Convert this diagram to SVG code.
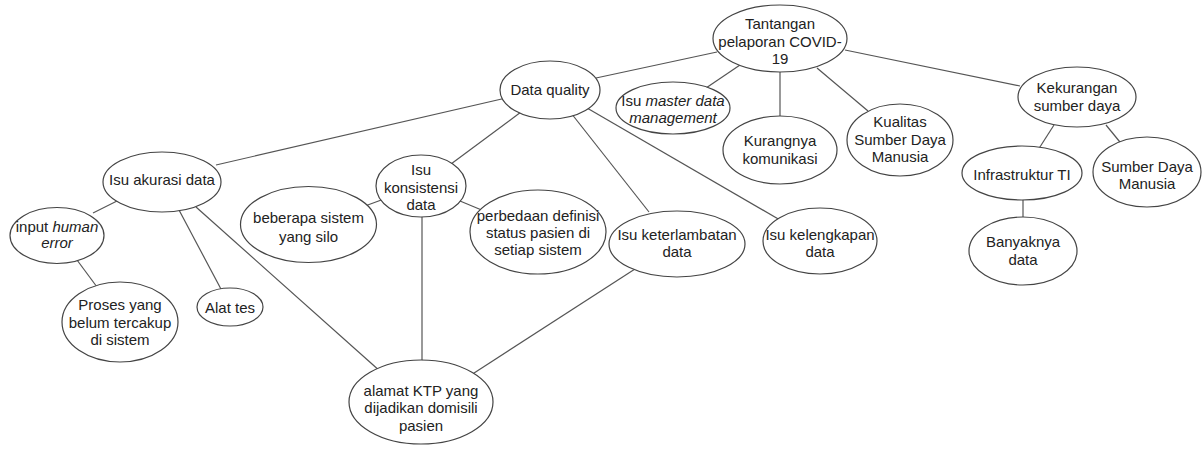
<svg xmlns="http://www.w3.org/2000/svg" width="1202" height="452" viewBox="0 0 1202 452">
<style>
  .n ellipse { fill: #ffffff; stroke: #444444; stroke-width: 1.2; }
  .n text { font-family: "Liberation Sans", Arial, sans-serif; font-size: 15px; fill: #222222; text-anchor: middle; }
  .i { font-style: italic; }
  #edges line { stroke: #555555; stroke-width: 1.2; }
</style>
<rect width="1202" height="452" fill="#ffffff"/>
<g id="edges">
  <line x1="717" y1="52" x2="596" y2="78"/>
  <line x1="740" y1="65" x2="706" y2="88"/>
  <line x1="780" y1="70" x2="780" y2="118"/>
  <line x1="817" y1="68" x2="868" y2="111"/>
  <line x1="845" y1="50" x2="1020" y2="86"/>
  <line x1="1054" y1="125" x2="1038" y2="150"/>
  <line x1="1106" y1="125" x2="1124" y2="147"/>
  <line x1="1023" y1="198" x2="1023" y2="219"/>
  <line x1="506" y1="98" x2="216" y2="165"/>
  <line x1="521" y1="112" x2="451" y2="164"/>
  <line x1="571" y1="113" x2="649" y2="212"/>
  <line x1="587" y1="108" x2="780" y2="220"/>
  <line x1="117" y1="201" x2="93" y2="213"/>
  <line x1="179" y1="210" x2="222" y2="291"/>
  <line x1="196" y1="207" x2="381" y2="372"/>
  <line x1="77" y1="260" x2="97" y2="287"/>
  <line x1="384" y1="199" x2="365" y2="206"/>
  <line x1="460" y1="201" x2="484" y2="211"/>
  <line x1="422" y1="215" x2="422" y2="363"/>
  <line x1="635" y1="269" x2="471" y2="375"/>
</g>
<g id="n-tantangan" class="n">
  <ellipse cx="780" cy="38.5" rx="67" ry="33.5"/>
  <text><tspan x="780" y="28.5">Tantangan</tspan><tspan x="780" y="46.5">pelaporan COVID-</tspan><tspan x="780" y="63.5">19</tspan></text>
</g>
<g id="n-dataquality" class="n">
  <ellipse cx="550" cy="90" rx="50" ry="29"/>
  <text x="550" y="95">Data quality</text>
</g>
<g id="n-master" class="n">
  <ellipse cx="673" cy="108" rx="57" ry="26"/>
  <text><tspan x="673" y="106">Isu <tspan class="i">master data</tspan></tspan><tspan x="673" y="123" class="i">management</tspan></text>
</g>
<g id="n-kurangnya" class="n">
  <ellipse cx="780" cy="150" rx="57" ry="34"/>
  <text><tspan x="780" y="146">Kurangnya</tspan><tspan x="780" y="164">komunikasi</tspan></text>
</g>
<g id="n-kualitas" class="n">
  <ellipse cx="900" cy="140" rx="53" ry="36"/>
  <text><tspan x="900" y="127">Kualitas</tspan><tspan x="900" y="145">Sumber Daya</tspan><tspan x="900" y="162">Manusia</tspan></text>
</g>
<g id="n-kekurangan" class="n">
  <ellipse cx="1077" cy="97" rx="59" ry="30"/>
  <text><tspan x="1077" y="93">Kekurangan</tspan><tspan x="1077" y="111">sumber daya</tspan></text>
</g>
<g id="n-infrastruktur" class="n">
  <ellipse cx="1022" cy="173" rx="60" ry="27"/>
  <text x="1022" y="180">Infrastruktur TI</text>
</g>
<g id="n-sdm" class="n">
  <ellipse cx="1147" cy="172" rx="54" ry="35"/>
  <text><tspan x="1147" y="172">Sumber Daya</tspan><tspan x="1147" y="189">Manusia</tspan></text>
</g>
<g id="n-banyaknya" class="n">
  <ellipse cx="1023" cy="251" rx="54" ry="34"/>
  <text><tspan x="1023" y="247">Banyaknya</tspan><tspan x="1023" y="265">data</tspan></text>
</g>
<g id="n-akurasi" class="n">
  <ellipse cx="162" cy="182" rx="59" ry="30"/>
  <text x="162" y="185">Isu akurasi data</text>
</g>
<g id="n-human" class="n">
  <ellipse cx="57" cy="235.5" rx="47" ry="28"/>
  <text><tspan x="57" y="232">input <tspan class="i">human</tspan></tspan><tspan x="57" y="248" class="i">error</tspan></text>
</g>
<g id="n-proses" class="n">
  <ellipse cx="120" cy="322" rx="58" ry="40"/>
  <text><tspan x="120" y="310">Proses yang</tspan><tspan x="120" y="328">belum tercakup</tspan><tspan x="120" y="345">di sistem</tspan></text>
</g>
<g id="n-alattes" class="n">
  <ellipse cx="230" cy="307" rx="33" ry="19"/>
  <text x="230" y="313">Alat tes</text>
</g>
<g id="n-konsistensi" class="n">
  <ellipse cx="421" cy="186" rx="45" ry="31"/>
  <text><tspan x="421" y="175">Isu</tspan><tspan x="421" y="193">konsistensi</tspan><tspan x="421" y="210">data</tspan></text>
</g>
<g id="n-beberapa" class="n">
  <ellipse cx="308.5" cy="224.5" rx="68" ry="38"/>
  <text><tspan x="308.5" y="223">beberapa sistem</tspan><tspan x="308.5" y="242">yang silo</tspan></text>
</g>
<g id="n-perbedaan" class="n">
  <ellipse cx="538" cy="232" rx="68" ry="42"/>
  <text><tspan x="538" y="221">perbedaan definisi</tspan><tspan x="538" y="238">status pasien di</tspan><tspan x="538" y="255">setiap sistem</tspan></text>
</g>
<g id="n-keterlambatan" class="n">
  <ellipse cx="677" cy="244" rx="68" ry="33"/>
  <text><tspan x="677" y="240">Isu keterlambatan</tspan><tspan x="677" y="257">data</tspan></text>
</g>
<g id="n-kelengkapan" class="n">
  <ellipse cx="820" cy="241" rx="57" ry="33"/>
  <text><tspan x="820" y="240">Isu kelengkapan</tspan><tspan x="820" y="257">data</tspan></text>
</g>
<g id="n-alamat" class="n">
  <ellipse cx="421" cy="402" rx="72" ry="42"/>
  <text><tspan x="421" y="396">alamat KTP yang</tspan><tspan x="421" y="413">dijadikan domisili</tspan><tspan x="421" y="431">pasien</tspan></text>
</g>
</svg>
